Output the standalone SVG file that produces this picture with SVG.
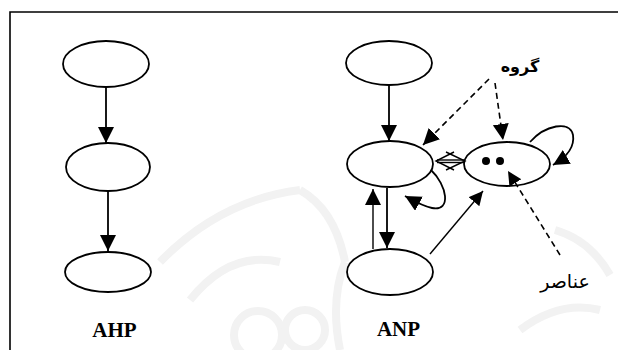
<svg xmlns="http://www.w3.org/2000/svg" width="618" height="350" viewBox="0 0 618 350">
<style>
.node{fill:#fff;stroke:#000;stroke-width:1.8}
.edge{fill:none;stroke:#000;stroke-width:1.8}
.thin{fill:none;stroke:#000;stroke-width:1.4}
.dash{fill:none;stroke:#000;stroke-width:1.6;stroke-dasharray:6,4}
.wm{fill:none;stroke:#f2f2f2;stroke-width:8}
.lbl{font-family:"Liberation Serif",serif;font-weight:bold;font-size:21px;fill:#000}
.ar{font-family:"DejaVu Sans","Noto Sans",sans-serif;fill:#000}
</style>
<defs>
<marker id="ah" markerUnits="userSpaceOnUse" markerWidth="18" markerHeight="18" refX="16" refY="8" orient="auto" viewBox="0 0 18 18">
<path d="M0,0 L16,8 L0,16 z" fill="#000"/>
</marker>
<marker id="ahs" markerUnits="userSpaceOnUse" markerWidth="16" markerHeight="16" refX="14" refY="7" orient="auto" viewBox="0 0 16 16">
<path d="M0,0 L14,7 L0,14 z" fill="#000"/>
</marker>
</defs>
<rect x="0" y="0" width="618" height="350" fill="#fff"/>
<g id="watermark">
<path class="wm" d="M160,262 Q220,200 300,190"/>
<path class="wm" d="M300,190 Q335,210 345,262"/>
<path class="wm" d="M190,300 Q230,250 280,262"/>
<circle class="wm" cx="258" cy="335" r="24"/>
<circle class="wm" cx="305" cy="330" r="20"/>
<path class="wm" d="M345,262 Q330,300 340,350"/>
<path class="wm" d="M555,230 Q590,240 610,275"/>
<path class="wm" d="M520,330 Q560,300 600,310"/>
</g>
<g id="frame">
<path d="M10,350 L10,12 L618,12" fill="none" stroke="#000" stroke-width="1.6"/>
</g>
<g id="ahp-top"><ellipse class="node" cx="106" cy="64" rx="43" ry="23"/></g>
<g id="ahp-mid"><ellipse class="node" cx="108" cy="167" rx="42" ry="24"/></g>
<g id="ahp-bot"><ellipse class="node" cx="108" cy="272" rx="43" ry="20"/></g>
<g id="anp-top"><ellipse class="node" cx="389" cy="63" rx="43" ry="22"/></g>
<g id="anp-mid"><ellipse class="node" cx="390" cy="164" rx="43" ry="23"/></g>
<g id="anp-right"><ellipse class="node" cx="507" cy="164" rx="43" ry="22"/>
<circle cx="486" cy="161" r="4" fill="#000"/>
<circle cx="500" cy="161" r="4" fill="#000"/>
</g>
<g id="anp-bot"><ellipse class="node" cx="390" cy="272" rx="43" ry="23"/></g>
<g id="connectors">
<line class="edge" x1="106" y1="87" x2="106" y2="143" marker-end="url(#ah)"/>
<line class="edge" x1="108" y1="191" x2="108" y2="251" marker-end="url(#ah)"/>
<line class="edge" x1="389" y1="85" x2="389" y2="141" marker-end="url(#ah)"/>
<line class="edge" x1="387" y1="188" x2="387" y2="248" marker-end="url(#ah)"/>
<line class="thin" x1="373" y1="249" x2="373" y2="189" marker-end="url(#ah)"/>
<line class="thin" x1="430" y1="254" x2="483" y2="191" marker-end="url(#ahs)"/>
<path class="edge" d="M431,170 C447,185 452,212 432,208 C422,206 414,201 405,196" marker-end="url(#ah)"/>
<path class="edge" d="M530,142 C545,125 570,120 573,135 C575,148 565,158 553,165" marker-end="url(#ah)"/>
<line class="dash" x1="489" y1="79" x2="423" y2="145" marker-end="url(#ah)"/>
<line class="dash" x1="495" y1="83" x2="503" y2="140" marker-end="url(#ah)"/>
<line class="dash" x1="560" y1="255" x2="508" y2="171" marker-end="url(#ahs)"/>
<g id="bidir" fill="none" stroke="#000" stroke-width="1.4">
<polyline points="454,152 436,161 454,170"/>
<polyline points="446,152 465,161 446,170"/>
<line x1="437" y1="160" x2="464" y2="160"/>
<line x1="437" y1="162.5" x2="464" y2="162.5"/>
</g>
</g>
<g id="labels">
<text class="lbl" x="114.5" y="337" text-anchor="middle">AHP</text>
<text class="lbl" x="398.5" y="336" text-anchor="middle">ANP</text>
<text class="ar" x="520" y="72" text-anchor="middle" font-size="16" font-weight="bold">گروه</text>
<text class="ar" x="565" y="288" text-anchor="middle" font-size="19">عناصر</text>
</g>
</svg>
